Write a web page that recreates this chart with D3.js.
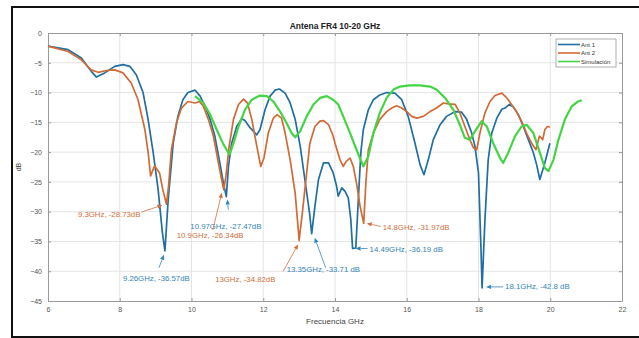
<!DOCTYPE html>
<html>
<head>
<meta charset="utf-8">
<script src="https://cdn.jsdelivr.net/npm/d3@7"></script>
<style>
  body { margin: 0; background: #fff; }
  text { font-family: "Liberation Sans", Arial, sans-serif; }
</style>
</head>
<body>
<div id="chart"></div>
<script>
// Ant 1 (blue)
const ant1Freq = [6, 6.56, 6.93, 7.2, 7.35, 7.58, 7.86, 8.09, 8.28, 8.46, 8.65, 8.79, 8.93, 9.07, 9.19, 9.26,
  9.35, 9.49, 9.62, 9.76, 9.9, 10.1, 10.24, 10.38, 10.52, 10.65, 10.79, 10.89, 10.97, 11.03, 11.12, 11.26,
  11.4, 11.49, 11.63, 11.82, 11.91, 12.05, 12.19, 12.33, 12.45, 12.61, 12.75, 12.89, 13.03, 13.16, 13.29,
  13.35, 13.44, 13.54, 13.68, 13.82, 13.95, 14.04, 14.09, 14.19, 14.28, 14.37, 14.44, 14.49, 14.58, 14.65,
  14.72, 14.79, 14.93, 15.07, 15.25, 15.44, 15.67, 15.86, 16.04, 16.23, 16.37, 16.48, 16.6, 16.74, 16.93,
  17.11, 17.35, 17.53, 17.67, 17.81, 17.9, 18.0, 18.07, 18.1, 18.18, 18.27, 18.37, 18.51, 18.65, 18.74,
  18.86, 18.97, 19.11, 19.25, 19.39, 19.53, 19.62, 19.71, 19.85, 19.99];
const ant1Db = [-2.2, -2.8, -4.2, -6.4, -7.4, -6.7, -5.6, -5.3, -5.6, -7.0, -10, -14.5, -20, -26.3, -33.6, -36.57,
  -28, -18.5, -14, -11.2, -10, -9.6, -10.6, -12.3, -14.5, -17.3, -21.8, -25.2, -27.47, -22.4, -18.5, -15.7,
  -14.4, -14.7, -15.9, -17.1, -16.2, -12.9, -10.6, -9.6, -9.4, -10.1, -11.75, -14.5, -19, -24.6, -30.2,
  -33.71, -29.1, -24.6, -21.8, -21.8, -23.5, -25.6, -27.4, -26, -26.6, -27.7, -31.3, -36.19, -36.1, -28,
  -20.1, -16.2, -12.9, -11.2, -10.4, -10, -10.1, -11.2, -14, -18.5, -22.1, -23.8, -21.3, -17.9, -15.4,
  -14, -13.2, -13.3, -14.5, -16.8, -19, -23.5, -36.4, -42.8, -31.3, -21.3, -16.8, -14.3, -12.8, -12.6,
  -12, -12.4, -13.7, -15.7, -17.9, -20.1, -22.1, -24.6, -21.8, -18.5];

// Ant 2 (orange)
const ant2Freq = [6, 6.56, 6.93, 7.2, 7.4, 7.63, 7.86, 8.09, 8.32, 8.51, 8.7, 8.79, 8.86, 8.97, 9.11, 9.2, 9.3,
  9.36, 9.44, 9.58, 9.72, 9.9, 10.1, 10.22, 10.33, 10.47, 10.61, 10.75, 10.84, 10.9, 10.96, 11.05, 11.17,
  11.31, 11.45, 11.56, 11.68, 11.82, 11.93, 12.02, 12.14, 12.28, 12.39, 12.51, 12.61, 12.75, 12.89, 12.96,
  13.0, 13.09, 13.21, 13.3, 13.44, 13.58, 13.68, 13.82, 13.95, 14.0, 14.14, 14.23, 14.32, 14.42, 14.51, 14.6,
  14.7, 14.8, 14.86, 14.93, 15.07, 15.25, 15.44, 15.58, 15.72, 15.86, 16.0, 16.14, 16.28, 16.46, 16.65,
  16.83, 17.02, 17.16, 17.35, 17.48, 17.62, 17.76, 17.86, 17.95, 18.04, 18.18, 18.32, 18.46, 18.65, 18.79,
  18.92, 19.06, 19.2, 19.34, 19.48, 19.6, 19.7, 19.79, 19.85, 19.92, 19.99];
const ant2Db = [-2.2, -3.1, -4.5, -6.2, -6.6, -6.3, -6.2, -6.7, -8.4, -11.2, -16.2, -20, -24, -22.3, -23.5, -26.3, -28.73,
  -25.7, -19.6, -15.1, -12.6, -11.5, -11.75, -11.5, -12.3, -14.5, -17.3, -21.8, -24.6, -26.34, -24, -19, -14.5,
  -12, -11.1, -11.75, -14.5, -19, -22.4, -21, -16.8, -14.3, -13.7, -14.3, -16.8, -21.3, -26.9, -31.9,
  -34.82, -30.2, -23.5, -18.5, -15.7, -14.8, -14.7, -15.4, -17.3, -18.5, -21.3, -22.4, -21.5, -21, -22.4, -25.2,
  -29.1, -31.97, -25.2, -19.6, -16.8, -14.5, -13.2, -12.6, -12.2, -12.6, -13.2, -14, -14.3, -14, -13.2,
  -12.6, -11.75, -11.9, -12, -13.4, -15.7, -17.9, -19.3, -19.6, -16.8, -13.4, -11.5, -10.5, -10.1, -10.9,
  -12, -13.2, -14.8, -16.8, -18.5, -19.6, -17.3, -17.9, -16.2, -15.7, -15.8];

// Simulación (green)
const simFreq = [10.1, 10.33, 10.52, 10.7, 10.89, 11.06, 11.17, 11.31, 11.49, 11.68, 11.91, 12.1, 12.28, 12.47,
  12.65, 12.79, 12.89, 13.03, 13.21, 13.4, 13.58, 13.77, 13.95, 14.09, 14.23, 14.42, 14.6, 14.79, 14.93, 15.07,
  15.25, 15.44, 15.63, 15.81, 16.09, 16.37, 16.65, 16.83, 17.07, 17.3, 17.48, 17.62, 17.76, 17.9, 18.09, 18.23,
  18.41, 18.6, 18.69, 18.83, 19.02, 19.2, 19.34, 19.53, 19.71, 19.85, 19.95, 20.09, 20.23, 20.41, 20.6, 20.78, 20.88];
const simDb = [-10.6, -11.75, -13.7, -16.2, -18.7, -20.4, -18.5, -15.7, -12.9, -11.2, -10.5, -10.6, -11.5, -13.2,
  -15.1, -16.8, -17.5, -16.5, -14, -12, -10.9, -10.6, -11.2, -12, -14, -16.8, -19.6, -22.4, -20.7, -16.8,
  -13.4, -10.9, -9.5, -9, -8.8, -8.8, -9, -9.5, -10.9, -12.9, -15.4, -17.6, -17.9, -16.5, -14.8, -15.7,
  -18.5, -21, -21.8, -20.1, -17.3, -15.7, -15.4, -16.8, -20.1, -22.7, -23.2, -21.3, -17.9, -14.5, -12.3, -11.5, -11.3];

const seriesNames = ["Ant 1", "Ant 2", "Simulación"];
const xTicks = [6, 8, 10, 12, 14, 16, 18, 20, 22];
const yTicks = [0, -5, -10, -15, -20, -25, -30, -35, -40, -45];

// data tips: frequency, dB, label, series index
const tipFreq = [9.3, 9.26, 10.97, 10.9, 13, 13.35, 14.8, 14.49, 18.1];
const tipDb = [-28.73, -36.57, -27.47, -26.34, -34.82, -33.71, -31.97, -36.19, -42.8];
const tipText = ["9.3GHz, -28.73dB", "9.26GHz, -36.57dB", "10.97GHz, -27.47dB", "10.9GHz, -26.34dB",
  "13GHz, -34.82dB", "13.35GHz, -33.71 dB", "14.8GHz, -31.97dB", "14.49GHz, -36.19 dB", "18.1GHz, -42.8 dB"];
const tipSeries = [1, 0, 0, 1, 1, 0, 1, 0, 0];

// label layout (pixel offsets from the point): text [dx, dy, anchor], arrow tail [dx, dy], arrow head gap [dx, dy]
const tipLayout = [
  { t: [-26, 13, "end"], tail: [-25, 8], head: [-4, 1] },
  { t: [-42, 30, "start"], tail: [-6, 17], head: [-1, 4] },
  { t: [-36, 32, "start"], tail: [2, 13], head: [1, 3] },
  { t: [-47, 48.5, "start"], tail: [-11, 40], head: [-2, 3] },
  { t: [-84, 42, "start"], tail: [-16, 31], head: [-1, 4] },
  { t: [-25, 38, "start"], tail: [14, 34], head: [3, 4] },
  { t: [19, 7, "start"], tail: [17, 3], head: [3, 0] },
  { t: [17, 3, "start"], tail: [15, 0], head: [3, 0] },
  { t: [23, 1, "start"], tail: [21, -1], head: [4, -1] }
];

const colors = ["#1f6fa2", "#d26a36", "#44d444"];
const tipColors = ["#3384b8", "#d07040"];

const W = 639, H = 338;
const margin = { left: 48, right: 622, top: 33, bottom: 301 };

const svg = d3.select("#chart").append("svg")
  .attr("width", W).attr("height", H);

// outer frame
svg.append("rect")
  .attr("x", 12).attr("y", 7).attr("width", 640).attr("height", 330)
  .attr("fill", "none").attr("stroke", "#111").attr("stroke-width", 2);

const x = d3.scaleLinear().domain([6, 22]).range([margin.left, margin.right]);
const y = d3.scaleLinear().domain([-45, 0]).range([margin.bottom, margin.top]);

// grid
const grid = svg.append("g");
grid.selectAll(".gx").data(xTicks.slice(1, -1)).join("line")
  .attr("x1", d => x(d)).attr("x2", d => x(d))
  .attr("y1", margin.top).attr("y2", margin.bottom)
  .attr("stroke", "#e4e4e4").attr("stroke-width", 1);
grid.selectAll(".gy").data(yTicks.slice(1, -1)).join("line")
  .attr("x1", margin.left).attr("x2", margin.right)
  .attr("y1", d => y(d)).attr("y2", d => y(d))
  .attr("stroke", "#e4e4e4").attr("stroke-width", 1);

// axes (matlab style: box, ticks inside)
function styleAxis(g) {
  g.select(".domain").attr("stroke", "#9a9a9a");
  g.selectAll(".tick line").attr("stroke", "#9a9a9a");
  g.selectAll("text").attr("fill", "#555").attr("font-size", "7px");
}
svg.append("g").attr("transform", `translate(0,${margin.bottom})`)
  .call(d3.axisBottom(x).tickValues(xTicks).tickSize(-3).tickPadding(6).tickSizeOuter(0))
  .call(styleAxis);
svg.append("g").attr("transform", `translate(0,${margin.top})`)
  .call(d3.axisTop(x).tickValues(xTicks).tickSize(-3).tickFormat("").tickSizeOuter(0))
  .call(styleAxis);
svg.append("g").attr("transform", `translate(${margin.left},0)`)
  .call(d3.axisLeft(y).tickValues(yTicks).tickSize(-3).tickPadding(6).tickSizeOuter(0))
  .call(styleAxis);
svg.append("g").attr("transform", `translate(${margin.right},0)`)
  .call(d3.axisRight(y).tickValues(yTicks).tickSize(-3).tickFormat("").tickSizeOuter(0))
  .call(styleAxis);

// curves
const line = d3.line().x(d => x(d[0])).y(d => y(d[1]));
const series = [
  d3.zip(ant1Freq, ant1Db),
  d3.zip(ant2Freq, ant2Db),
  d3.zip(simFreq, simDb)
];
svg.append("g").selectAll("path").data(series).join("path")
  .attr("d", line)
  .attr("fill", "none")
  .attr("stroke", (d, i) => colors[i])
  .attr("stroke-width", (d, i) => i === 2 ? 2.2 : 1.7)
  .attr("stroke-linejoin", "round");

// data tips
const tips = svg.append("g");
tipFreq.forEach((f, i) => {
  const px = x(f), py = y(tipDb[i]);
  const L = tipLayout[i];
  const c = tipColors[tipSeries[i]];
  const x1 = px + L.tail[0], y1 = py + L.tail[1];
  const x2 = px + L.head[0], y2 = py + L.head[1];
  const ang = Math.atan2(y2 - y1, x2 - x1);
  const hl = 5, hw = 2.2;
  const bx = x2 - hl * Math.cos(ang), by = y2 - hl * Math.sin(ang);
  tips.append("line")
    .attr("x1", x1).attr("y1", y1).attr("x2", bx).attr("y2", by)
    .attr("stroke", c).attr("stroke-width", 0.8);
  tips.append("path")
    .attr("d", `M${x2},${y2}L${bx - hw * Math.sin(ang)},${by + hw * Math.cos(ang)}L${bx + hw * Math.sin(ang)},${by - hw * Math.cos(ang)}Z`)
    .attr("fill", c);
  tips.append("text")
    .attr("x", px + L.t[0]).attr("y", py + L.t[1])
    .attr("text-anchor", L.t[2])
    .attr("font-size", "7.8px")
    .attr("fill", c)
    .text(tipText[i]);
});

// title and labels
svg.append("text")
  .attr("x", (margin.left + margin.right) / 2).attr("y", 29)
  .attr("text-anchor", "middle").attr("font-size", "8.5px").attr("font-weight", "bold")
  .attr("fill", "#222").text("Antena FR4 10-20 GHz");
svg.append("text")
  .attr("x", (margin.left + margin.right) / 2).attr("y", 324)
  .attr("text-anchor", "middle").attr("font-size", "8px").attr("fill", "#444")
  .text("Frecuencia GHz");
svg.append("text")
  .attr("transform", `translate(21,${(margin.top + margin.bottom) / 2}) rotate(-90)`)
  .attr("text-anchor", "middle").attr("font-size", "7px").attr("fill", "#444")
  .text("dB");

// legend
const lg = svg.append("g").attr("transform", "translate(556,39)");
lg.append("rect").attr("width", 60).attr("height", 28)
  .attr("fill", "#fff").attr("stroke", "#999").attr("stroke-width", 0.8);
seriesNames.forEach((name, i) => {
  const ly = 5.5 + i * 8.5;
  lg.append("line").attr("x1", 2).attr("x2", 24).attr("y1", ly).attr("y2", ly)
    .attr("stroke", colors[i]).attr("stroke-width", 1.6);
  lg.append("text").attr("x", 25).attr("y", ly + 2)
    .attr("font-size", "6px").attr("fill", "#333").text(name);
});
</script>
</body>
</html>
